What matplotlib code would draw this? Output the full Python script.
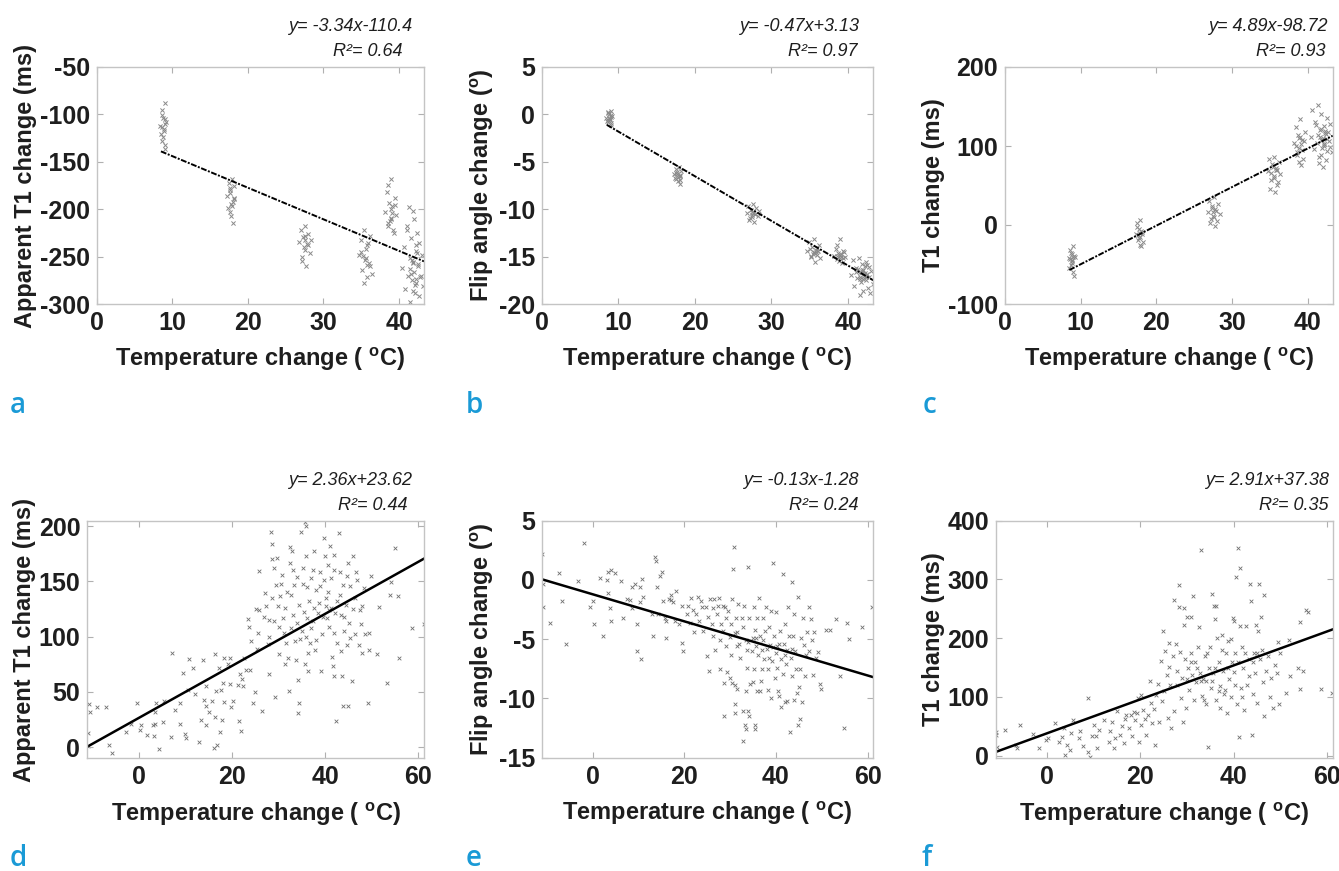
import matplotlib
matplotlib.use("Agg")
import matplotlib.pyplot as plt

plt.rcParams["font.family"] = ["Liberation Sans", "DejaVu Sans"]
plt.rcParams["mathtext.fontset"] = "custom"
plt.rcParams["mathtext.rm"] = "Liberation Sans"
plt.rcParams["mathtext.bf"] = "Liberation Sans:bold"
plt.rcParams["mathtext.it"] = "Liberation Sans:italic"
plt.rcParams["axes.unicode_minus"] = False

# ---- top row: phantom heating steps (same temperatures for a, b, c) ----
temp_top = [
    8.4, 8.6, 8.7, 8.8, 8.9, 9.0, 9.1, 9.2, 8.5, 8.7, 8.9, 9.0, 9.1, 8.8, 9.0, 8.6,
    17.3, 17.5, 17.6, 17.7, 17.8, 17.9, 18.0, 18.1, 18.2, 17.4, 17.6, 17.8, 18.0, 17.7, 17.9, 18.1,
    26.8, 27.0, 27.2, 27.3, 27.5, 27.6, 27.7, 27.8, 28.0, 28.2, 28.4, 27.1, 27.4, 27.6, 27.9, 27.5,
    34.7, 34.9, 35.1, 35.3, 35.5, 35.6, 35.7, 35.8, 36.0, 36.2, 36.4, 35.0, 35.4, 35.6, 35.9, 36.1, 35.2, 35.8,
    38.2, 38.4, 38.6, 38.7, 38.9, 39.0, 39.1, 39.2, 39.4, 39.6, 38.5, 38.8, 39.0, 39.3, 39.5, 38.6, 39.1, 38.9,
    40.4, 40.6, 40.8, 41.0, 41.2, 41.4, 41.5, 41.6, 41.7, 41.8, 41.9, 42.0, 42.1, 42.2, 42.3, 42.4, 42.5, 42.6,
    42.7, 42.8, 43.0, 43.2, 41.3, 41.5, 41.7, 41.9, 42.0, 42.2, 42.4, 41.6, 41.8, 42.1, 42.3, 42.5, 42.9, 41.1,
]
apparent_t1_top = [
    -112, -95, -128, -104, -118, -88, -137, -108, -121, -101, -115, -132, -110, -124, -105, -113,
    -186, -172, -203, -180, -195, -168, -215, -189, -176, -199, -183, -207, -192, -178, -197, -188,
    -235, -222, -250, -229, -243, -218, -260, -237, -226, -246, -232, -255, -240, -228, -238, -233,
    -248, -233, -264, -222, -254, -242, -272, -238, -257, -228, -268, -245, -278, -251, -236, -260, -249, -259,
    -203, -182, -215, -193, -168, -209, -197, -222, -188, -206, -175, -212, -200, -225, -196, -218, -204, -210,
    -262, -240, -284, -218, -270, -251, -298, -230, -275, -256, -202, -266, -288, -244, -278, -225, -260, -292,
    -236, -272, -248, -281, -198, -263, -254, -286, -210, -274, -246, -268, -257, -280, -238, -258, -270, -222,
]
flip_top = [
    -0.4, 0.3, -0.8, 0.0, -0.6, 0.4, -1.1, -0.2, -0.7, 0.1, -0.5, -0.9, -0.3, -0.35, -0.1, -0.55,
    -6.3, -5.8, -6.8, -6.1, -6.6, -5.5, -7.3, -6.4, -6.0, -6.7, -6.2, -7.0, -6.5, -6.25, -6.45, -6.9,
    -10.4, -9.7, -10.9, -10.1, -10.6, -9.4, -11.4, -10.5, -9.9, -10.7, -10.2, -11.1, -10.3, -10.35, -10.55, -10.8,
    -14.4, -13.5, -15.0, -14.0, -14.6, -13.1, -15.6, -14.3, -14.8, -13.8, -15.2, -14.2, -14.7, -14.5, -14.1, -14.45, -14.9, -14.55,
    -14.9, -14.2, -15.3, -14.6, -13.1, -15.1, -14.7, -15.7, -14.4, -15.0, -13.8, -15.5, -14.8, -15.2, -14.5, -14.95, -15.05, -14.85,
    -16.9, -15.4, -18.1, -16.2, -17.3, -15.1, -19.0, -16.6, -17.7, -15.8, -16.4, -18.6, -17.0, -16.0, -17.5, -15.6, -16.8, -18.3,
    -16.1, -17.2, -16.5, -17.9, -16.3, -17.1, -16.7, -17.4, -16.45, -16.75, -17.05, -17.35, -16.55, -16.85, -17.15, -15.9, -18.8, -16.65,
]
t1_top = [
    -42, -32, -51, -37, -46, -27, -64, -40, -55, -35, -44, -60, -39, -48, -41, -43,
    -11, 2, -19, -5, -15, 6, -27, -9, -22, -2, -13, -25, -7, -17, -10, -12,
    17, 30, 8, 24, 12, 35, -1, 20, 5, 27, 14, 2, 22, 10, 18, 16,
    68, 83, 57, 77, 62, 86, 42, 72, 50, 80, 64, 46, 74, 60, 70, 54, 66, 69,
    104, 124, 92, 114, 98, 134, 76, 108, 84, 118, 100, 80, 111, 95, 106, 88, 102, 110,
    112, 146, 96, 131, 104, 152, 78, 120, 89, 140, 108, 73, 125, 100, 116, 82, 135, 94,
    118, 106, 128, 92, 114, 86, 122, 98, 110, 102, 115, 111, 107, 103, 119, 109, 99, 126,
]

# ---- bottom row: in vivo scatter ----
temp_d = [
    -10.6, -10.5, -8.9, -6.9, -10.9, -6.4, -5.6, -2.8, -1.6, -0.3,
    0.6, 0.4, 1.9, 3.1, 3.6, 3.3, 3.6, 3.8, 4.3, 5.2,
    5.4, 7.0, 7.1, 7.9, 8.9, 8.8, 9.5, 10.0, 10.2, 10.9,
    10.6, 11.6, 12.0, 13.0, 13.4, 13.9, 14.0, 14.4, 14.4, 14.5,
    15.2, 15.8, 16.1, 16.3, 16.4, 16.5, 16.8, 17.2, 17.5, 17.7,
    17.9, 18.1, 18.3, 18.4, 19.1, 19.5, 19.6, 19.8, 20.3, 21.3,
    21.5, 21.8, 22.0, 22.4, 22.2, 22.7, 23.1, 23.4, 23.6, 23.9,
    24.1, 24.6, 24.9, 25.1, 25.6, 25.4, 25.9, 25.8, 26.5, 27.0,
    27.8, 28.0, 28.0, 27.9, 28.3, 28.5, 28.5, 28.6, 29.0, 29.1,
    29.3, 29.5, 29.7, 30.0, 30.2, 30.4, 30.7, 30.9, 31.1, 31.3,
    31.5, 31.6, 32.0, 32.2, 32.4, 32.5, 32.7, 32.9, 33.1, 33.4,
    33.6, 33.8, 33.9, 34.1, 34.2, 34.3, 34.5, 34.9, 35.1, 35.2,
    35.3, 35.6, 35.7, 35.8, 35.9, 36.0, 36.1, 36.3, 36.4, 36.6,
    36.8, 37.0, 37.3, 37.6, 37.7, 37.9, 38.1, 38.4, 38.8, 39.1,
    39.3, 39.7, 39.8, 40.0, 40.2, 40.4, 40.6, 40.8, 40.9, 41.1,
    41.3, 41.4, 41.6, 41.8, 42.0, 41.8, 42.2, 42.4, 42.5, 42.9,
    43.1, 43.3, 43.4, 43.6, 43.8, 43.9, 44.1, 44.4, 44.7, 44.9,
    45.0, 45.2, 45.4, 45.7, 45.9, 46.3, 46.5, 46.8, 47.4, 47.7,
    47.9, 48.3, 48.6, 49.1, 49.4, 49.5, 49.9, 51.1, 51.6, 53.3,
    53.9, 54.2, 54.9, 55.6, 55.9, 58.6, 61.1, -10.9,
    29.8, 30.6, 31.8, 32.6, 33.2, 34.0, 34.7, 35.4, 36.2, 36.9,
    37.4, 38.0, 38.6, 39.0, 39.5, 40.1, 40.7, 41.2, 41.9, 42.6,
    43.2, 44.0, 44.6, 45.3, 46.0, 46.6, 47.2, 48.0, 26.8, 27.4,
]
apparent_t1_d = [
    39, 32, 36, 36, 1, 2, -5, 14, 21, 40,
    20, 16, 11, 20, 21, 10, 32, 40, -2, 23,
    42, 9, 85, 34, 21, 40, 67, 12, 8, 80,
    52, 72, 48, 5, 25, 79, 43, 55, 20, 37,
    32, 42, -1, 27, 84, 51, 2, 72, 14, 52,
    25, 58, 81, 41, 75, 81, 57, 36, 42, 56,
    24, 66, 15, 55, 62, 81, 70, 116, 109, 70,
    96, 40, 50, 125, 103, 89, 159, 124, 33, 139,
    93, 115, 100, 66, 195, 184, 170, 135, 162, 114,
    45, 147, 171, 84, 109, 137, 156, 117, 103, 126,
    75, 94, 81, 51, 181, 167, 138, 177, 120, 147,
    96, 79, 154, 61, 31, 40, 129, 195, 105, 162,
    148, 75, 204, 100, 200, 173, 117, 85, 69, 132,
    94, 153, 114, 126, 177, 88, 142, 121, 158, 69,
    102, 189, 151, 173, 135, 117, 165, 124, 109, 182,
    153, 82, 73, 174, 103, 64, 121, 24, 94, 194,
    138, 120, 87, 64, 37, 147, 105, 129, 155, 37,
    167, 112, 99, 60, 173, 135, 102, 151, 124, 111,
    85, 144, 102, 40, 88, 103, 155, 84, 127, 58,
    138, 149, 180, 137, 81, 108, 111, 13,
    128, 148, 140, 108, 160, 112, 98, 122, 145, 108,
    160, 97, 130, 146, 118, 128, 140, 126, 160, 132,
    158, 118, 92, 146, 125, 158, 92, 128, 118, 128,
]

temp_e = [
    -11.1, -10.9, -10.8, -9.3, -7.3, -6.6, -5.9, -3.1, -1.9, -0.6,
    0.1, 0.4, 1.6, 2.3, 3.1, 3.3, 3.4, 3.8, 4.0, 4.1,
    4.9, 6.3, 6.7, 7.6, 8.1, 8.5, 8.7, 9.2, 9.6, 9.7,
    10.3, 10.3, 10.5, 10.7, 11.1, 12.9, 13.2, 13.6, 13.9, 14.1,
    14.3, 14.7, 15.1, 15.4, 15.8, 16.1, 16.1, 16.7, 17.0, 17.2,
    17.6, 18.0, 18.3, 18.9, 19.4, 19.4, 19.8, 20.5, 20.9, 21.2,
    21.4, 21.8, 22.1, 22.5, 23.1, 23.3, 23.6, 23.8, 24.1, 24.7,
    24.9, 25.1, 25.5, 25.7, 26.0, 26.2, 26.3, 26.5, 26.7, 27.1,
    27.4, 27.6, 27.8, 27.9, 28.1, 28.4, 28.5, 28.7, 28.9, 29.1,
    29.2, 29.4, 29.6, 30.0, 30.1, 30.3, 30.5, 30.7, 30.9, 31.1,
    31.2, 31.4, 31.6, 31.8, 31.9, 32.1, 32.5, 32.7, 32.9, 33.1,
    33.2, 33.4, 33.6, 33.7, 34.0, 34.2, 34.3, 34.7, 34.9, 35.1,
    35.2, 35.4, 35.6, 35.8, 35.9, 36.1, 36.4, 36.5, 36.7, 36.9,
    37.1, 37.2, 37.4, 37.6, 37.8, 38.0, 38.2, 38.3, 38.5, 38.7,
    38.9, 39.1, 39.3, 39.4, 39.6, 39.8, 40.0, 40.1, 40.3, 40.5,
    40.7, 40.9, 41.0, 41.2, 41.5, 41.6, 41.7, 42.0, 42.2, 42.3,
    42.5, 42.7, 42.9, 43.1, 43.2, 43.4, 43.6, 43.8, 43.9, 44.1,
    44.4, 44.5, 44.7, 44.9, 45.1, 45.2, 45.5, 45.6, 45.8, 46.1,
    46.3, 46.7, 47.1, 47.3, 47.6, 47.8, 48.0, 48.4, 48.7, 49.2,
    49.5, 49.8, 50.9, 51.8, 53.2, 54.0, 54.8, 55.4, 55.9, 58.7,
    61.0, 28.7, 31.1, 31.1, 32.9, 33.4, 34.0, 34.2, 35.4, 35.4,
    45.2, 30.4, 31.0, 33.5, 35.0, 36.6, 38.9, 40.6, 42.0, 44.0,
    29.9, 31.5, 33.8, 35.7, 37.0, 38.4, 40.2, 41.9, 43.5, 46.5,
]
flip_e = [
    2.2, -0.3, -2.3, -3.6, 0.6, -1.8, -5.4, -0.1, 3.1, -2.3,
    -1.8, -3.7, 0.2, -4.7, 0.0, 0.7, -1.1, -2.4, 0.8, -3.5,
    0.6, -0.1, -3.2, -1.6, -1.7, -2.4, -0.6, -0.3, -3.7, -6.0,
    -0.6, -1.9, -6.7, 0.1, -1.4, -2.9, -4.7, 1.9, 1.6, -0.6,
    -2.9, 0.3, 0.7, -1.8, -3.2, -3.5, -4.9, -1.6, -1.7, -1.3,
    -1.9, -3.5, -0.9, -3.7, -2.2, -5.3, -6.0, -2.9, -2.2, -3.6,
    -1.5, -2.5, -4.4, -2.9, -1.4, -3.5, -1.8, -2.3, -4.3, -2.3,
    -6.4, -3.1, -7.7, -1.6, -3.7, -2.4, -4.7, -1.6, -5.9, -2.9,
    -2.2, -1.5, -5.1, -7.5, -3.7, -2.2, -4.3, -8.7, -2.3, -5.6,
    -3.2, -7.8, -2.6, -8.3, -3.7, -6.3, -1.6, 0.9, 2.8, -4.5,
    -3.2, -9.2, -4.4, -2.0, -5.4, -6.6, -3.2, -11.1, -4.0, -2.2,
    -12.2, -5.1, -7.4, -5.9, 1.1, -3.2, -8.8, -6.0, -4.9, -2.3,
    -7.5, -4.2, -5.6, -9.4, -3.2, -6.3, -1.5, -4.7, -8.5, -7.5,
    -3.2, -5.1, -6.7, -4.3, -2.3, -5.8, -7.5, -9.3, -4.0, -5.5,
    -2.6, -6.8, -5.7, 1.4, -4.7, -8.3, -6.2, -2.7, -7.4, -9.4,
    -5.4, -4.3, -6.7, -10.7, 0.5, -7.9, -5.4, -3.7, -7.1, -5.9,
    -10.2, -2.3, -4.7, -12.8, -6.6, -8.1, -0.2, -4.7, -2.9, -6.0,
    -7.5, -9.5, -12.2, -1.4, -9.0, -7.5, -4.9, -10.3, -3.2, -5.5,
    -8.1, -4.4, -6.0, -2.3, -3.3, -5.1, -8.0, -4.4, -6.6, -6.1,
    -8.8, -9.2, -4.2, -4.2, -3.3, -8.1, -12.5, -3.6, -5.0, -4.0,
    -2.3, -11.5, -10.5, -11.2, -13.6, -12.6, -11.1, -11.5, -12.2, -12.6,
    -11.7, -8.7, -8.9, -9.4, -8.6, -9.4, -10.0, -9.8, -10.3, -10.1,
    -4.8, -5.6, -5.2, -4.9, -5.9, -6.6, -5.6, -6.3, -5.8, -6.3,
]

temp_f = [
    -10.7, -10.5, -10.9, -8.8, -6.6, -6.3, -5.6, -2.9, -1.6, -0.2,
    0.3, 1.9, 2.6, 3.3, 3.7, 3.9, 4.4, 5.0, 5.3, 5.6,
    6.9, 7.1, 7.8, 8.8, 8.9, 9.4, 9.8, 10.1, 10.5, 10.8,
    11.2, 12.3, 13.3, 13.5, 14.0, 14.4, 14.6, 15.1, 15.8, 16.2,
    16.5, 16.7, 17.1, 17.6, 18.0, 18.3, 18.7, 19.0, 19.4, 19.5,
    19.7, 20.1, 20.3, 20.7, 21.0, 21.2, 21.7, 22.1, 22.4, 22.6,
    23.0, 23.2, 23.5, 23.8, 24.0, 24.4, 24.7, 24.9, 25.1, 25.4,
    25.7, 25.9, 26.2, 26.3, 26.5, 26.7, 27.0, 27.2, 27.2, 27.6,
    27.8, 28.0, 28.3, 28.4, 28.5, 28.7, 28.9, 29.1, 29.4, 29.4,
    29.6, 29.9, 30.1, 30.3, 30.5, 30.8, 31.0, 31.2, 31.4, 31.6,
    31.8, 32.0, 32.3, 32.6, 32.8, 33.1, 33.3, 33.5, 33.8, 34.0,
    34.2, 34.5, 34.7, 35.0, 35.2, 35.4, 35.6, 35.9, 36.0, 36.3,
    36.3, 36.5, 36.8, 37.0, 37.2, 37.5, 37.8, 38.0, 38.3, 38.6,
    38.9, 39.1, 39.4, 39.7, 39.9, 40.0, 40.2, 40.4, 40.6, 40.8,
    40.9, 41.1, 41.3, 41.3, 41.6, 41.8, 42.0, 42.3, 42.7, 42.9,
    43.2, 43.5, 43.7, 43.9, 44.1, 44.4, 44.6, 44.9, 45.1, 45.3,
    45.4, 45.6, 45.8, 46.0, 46.2, 46.5, 46.6, 46.9, 47.3, 47.7,
    48.1, 48.5, 48.9, 49.2, 49.5, 49.7, 50.0, 51.2, 51.8, 52.0,
    53.8, 54.2, 54.2, 54.8, 55.5, 56.0, 58.6, 61.1,
    30.0, 31.0, 32.2, 33.0, 33.7, 34.4, 35.3, 36.1, 36.9, 37.6,
    38.2, 38.8, 39.5, 40.3, 41.0, 41.7, 42.5, 43.3, 44.2, 45.0,
]
t1_f = [
    36, 14, 40, 44, 19, 13, 52, 37, 13, 26,
    30, 55, 23, 32, 47, 2, 19, 10, 39, 60,
    30, 42, 16, 7, 98, -2, 33, 52, 33, 13,
    43, 60, 24, 42, 57, 13, 30, 76, 35, 50,
    22, 63, 70, 47, 69, 33, 74, 61, 73, 98,
    24, 53, 103, 78, 63, 36, 70, 128, 90, 56,
    80, 19, 104, 122, 57, 161, 93, 212, 110, 178,
    138, 64, 192, 151, 120, 48, 169, 265, 76, 190,
    121, 145, 291, 253, 176, 98, 133, 58, 223, 251,
    165, 82, 236, 150, 112, 236, 175, 138, 271, 95,
    160, 125, 185, 219, 140, 350, 102, 130, 170, 88,
    128, 15, 150, 185, 115, 276, 140, 255, 232, 255,
    95, 200, 160, 118, 82, 205, 145, 105, 175, 72,
    195, 130, 100, 160, 235, 230, 142, 175, 305, 88,
    353, 32, 319, 220, 115, 185, 150, 78, 221, 120,
    165, 293, 263, 35, 105, 175, 140, 222, 90, 212,
    293, 165, 236, 180, 125, 273, 68, 145, 170, 100,
    132, 82, 155, 140, 194, 88, 175, 107, 197, 135,
    150, 228, 114, 145, 248, 244, 114, 106,
    130, 160, 150, 128, 95, 175, 128, 150, 110, 180,
    112, 150, 198, 120, 160, 100, 175, 135, 160, 175,
]

# fitted lines as drawn (end points)
fit_top_x = [8.5, 43.3]
fit_a_y = [-139, -255]
fit_b_y = [-1.1, -17.5]
fit_c_y = [-57, 113]
fit_bottom_x = [-11.0, 61.2]
fit_d_y = [0.5, 170.5]
fit_e_y = [0.05, -8.2]
fit_f_y = [6, 215]

equations = ["y= -3.34x-110.4", "y= -0.47x+3.13", "y= 4.89x-98.72",
             "y= 2.36x+23.62", "y= -0.13x-1.28", "y= 2.91x+37.38"]
r_squared = ["0.64", "0.97", "0.93", "0.44", "0.24", "0.35"]
panel_letters = ["a", "b", "c", "d", "e", "f"]

XLABEL = r"Temperature change ( $^{\mathbf{o}}$C)"
Y_T1_APP = "Apparent T1 change (ms)"
Y_FLIP = r"Flip angle change ($^{\mathbf{o}}$)"
Y_T1 = "T1 change (ms)"

W, H = 1339, 871
fig = plt.figure(figsize=(W / 100, H / 100), dpi=100)


def px_axes(left, top, right, bottom):
    return fig.add_axes([left / W, 1 - bottom / H, (right - left) / W, (bottom - top) / H])


def style_axes(ax, xlim, ylim, xticks, yticks, ylabel):
    ax.set_xlim(*xlim)
    ax.set_ylim(*ylim)
    ax.set_xticks(xticks)
    ax.set_yticks(yticks)
    for sp in ax.spines.values():
        sp.set_color("#c4c4c4")
        sp.set_linewidth(1.0)
    ax.tick_params(direction="in", length=4, width=0.8, color="#b0b0b0",
                   top=True, right=True, labelsize=18, labelcolor="#1e1e1e", pad=5)
    for lab in ax.get_xticklabels() + ax.get_yticklabels():
        lab.set_fontweight("bold")
    ax.set_xlabel(XLABEL, fontsize=17, fontweight="bold", color="#1e1e1e", labelpad=8)
    ax.set_ylabel(ylabel, fontsize=17, fontweight="bold", color="#1e1e1e", labelpad=2)


def annotate(ax, idx, eq_dx=0, r_dx=0):
    bb = ax.get_position()
    right = bb.x1 * W
    top = (1 - bb.y1) * H
    fig.text((right - 12 + eq_dx) / W, 1 - (top - 36) / H, equations[idx],
             fontsize=13, fontstyle="italic", color="#1e1e1e", ha="right", va="baseline")
    fig.text((right - 12 + r_dx) / W, 1 - (top - 11) / H, "R\u00b2= " + r_squared[idx],
             fontsize=13, fontstyle="italic", color="#1e1e1e", ha="right", va="baseline")


top_kw = dict(marker="x", s=9, c="#8a8a8a", linewidths=0.7)
bot_kw = dict(marker="x", s=7, c="#707070", linewidths=0.6)
fit_top_style = dict(color="black", lw=1.4, ls=(0, (3, 0.8, 1, 0.8)))
fit_bot_style = dict(color="black", lw=1.8, ls="-")

# a
ax = px_axes(96.7, 67, 424, 304)
ax.scatter(temp_top, apparent_t1_top, **top_kw)
ax.plot(fit_top_x, fit_a_y, **fit_top_style)
style_axes(ax, (0, 43.3), (-300, -50), [0, 10, 20, 30, 40], range(-300, -49, 50), Y_T1_APP)
annotate(ax, 0, eq_dx=0, r_dx=-9)

# b
ax = px_axes(541.7, 67, 873.3, 304)
ax.scatter(temp_top, flip_top, **top_kw)
ax.plot(fit_top_x, fit_b_y, **fit_top_style)
style_axes(ax, (0, 43.3), (-20, 5), [0, 10, 20, 30, 40], range(-20, 6, 5), Y_FLIP)
annotate(ax, 1, eq_dx=-2, r_dx=-4)

# c
ax = px_axes(1005, 67, 1332.7, 304)
ax.scatter(temp_top, t1_top, **top_kw)
ax.plot(fit_top_x, fit_c_y, **fit_top_style)
style_axes(ax, (0, 43.3), (-100, 200), [0, 10, 20, 30, 40], [-100, 0, 100, 200], Y_T1)
annotate(ax, 2, eq_dx=7, r_dx=5)

# d
ax = px_axes(87.3, 520.7, 424, 758.3)
ax.scatter(temp_d, apparent_t1_d, **bot_kw)
ax.plot(fit_bottom_x, fit_d_y, **fit_bot_style)
style_axes(ax, (-11, 61.2), (-10, 204.8), [0, 20, 40, 60], [0, 50, 100, 150, 200], Y_T1_APP)
annotate(ax, 3, eq_dx=0, r_dx=-5)

# e
ax = px_axes(541.7, 520.7, 872.7, 757.7)
ax.scatter(temp_e, flip_e, **bot_kw)
ax.plot(fit_bottom_x, fit_e_y, **fit_bot_style)
style_axes(ax, (-11.1, 61.1), (-15, 5), [0, 20, 40, 60], [-15, -10, -5, 0, 5], Y_FLIP)
annotate(ax, 4, eq_dx=-2, r_dx=-2)

# f
ax = px_axes(996, 520.7, 1332.7, 758.3)
ax.scatter(temp_f, t1_f, **bot_kw)
ax.plot(fit_bottom_x, fit_f_y, **fit_bot_style)
style_axes(ax, (-10.8, 61.2), (-4.4, 400), [0, 20, 40, 60], [0, 100, 200, 300, 400], Y_T1)
annotate(ax, 5, eq_dx=8, r_dx=8)

# panel letters
letter_pos = [(10, 413), (466, 413), (923, 413), (10, 866), (466, 866), (922, 866)]
for letter, (lx, ly) in zip(panel_letters, letter_pos):
    fig.text(lx / W, 1 - ly / H, letter, fontsize=20, color="#1a9ad6", fontweight="semibold",
             family=["Open Sans", "DejaVu Sans"], ha="left", va="baseline")

fig.savefig("out.png", dpi=100, facecolor="white")
